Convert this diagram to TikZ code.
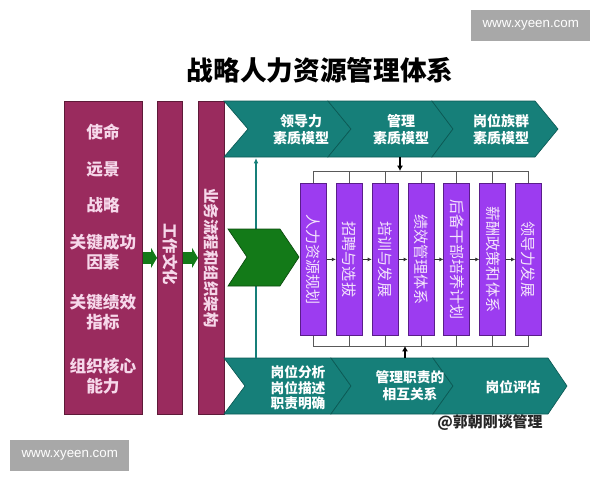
\documentclass[tikz,border=0pt]{standalone}
\usepackage{fontspec}
\setmainfont{Liberation Sans}
\newfontfamily\cjk{Noto Sans CJK SC}
\usepackage{xcolor}
\usepackage{tikz}
\usetikzlibrary{arrows.meta,positioning}

\definecolor{wine}{HTML}{9A2B5E}
\definecolor{winedark}{HTML}{5E1A38}
\definecolor{winetext}{HTML}{F6D8EA}
\definecolor{teal1}{HTML}{167F79}
\definecolor{tealdark}{HTML}{0C5A55}
\definecolor{grn}{HTML}{137A18}
\definecolor{grndark}{HTML}{0B4A0E}
\definecolor{violet1}{HTML}{9C3CF0}
\definecolor{violetdark}{HTML}{5A1E8A}
\definecolor{violettext}{HTML}{F4E4FC}
\definecolor{wmgray}{HTML}{A8A8A8}

\begin{document}
\begin{tikzpicture}[
    x=0.75pt, y=-0.75pt,
    font=\cjk,
    goalbox/.style={draw=winedark, fill=wine, line width=0.6pt, inner sep=0pt, anchor=north west},
    goaltxt/.style={align=center, text=winetext, inner sep=0pt, font=\cjk\bfseries\fontsize{12.5}{15.5}\selectfont},
    bartxt/.style={text=winetext, inner sep=0pt, font=\cjk\bfseries\fontsize{11.6}{14}\selectfont},
    band/.style={draw=tealdark, fill=teal1, line width=0.5pt},
    bandtxt/.style={align=center, text=white, inner sep=0pt, font=\cjk\bfseries\fontsize{10.5}{12.75}\selectfont},
    hrbox/.style={draw=violetdark, fill=violet1, line width=0.6pt, inner sep=0pt, minimum width=19.5pt, minimum height=114pt, text=violettext, font=\cjk\fontsize{11.3}{13}\selectfont},
    garrow/.style={-{Triangle[length=4.5pt, width=15pt]}, line width=8.5pt, draw=grn},
    sarrow/.style={-{Latex[length=3pt, width=3pt]}, line width=0.6pt, draw=black!80},
    bigarrow/.style={-{Latex[length=4pt, width=4.5pt]}, line width=1.4pt, draw=black},
    bracket/.style={draw=black!65, line width=0.6pt},
    wmark/.style={fill=wmgray, text=white, inner sep=0pt, anchor=north west, minimum width=89.25pt, minimum height=23pt, font=\fontsize{10}{12}\selectfont}
]
\useasboundingbox (0,0) rectangle (600,480);

% title and marks
\node[font=\cjk\bfseries\fontsize{20}{24}\selectfont] (title) at (320,70) {战略人力资源管理体系};
\node[wmark] (wmtop) at (471,10) {www.xyeen.com};
\node[wmark] (wmbot) at (10,440) {www.xyeen.com};
\node[inner sep=0pt, text=black!85, font=\cjk\bfseries\fontsize{11.2}{13}\selectfont] (credit) at (490,423) {@郭朝刚谈管理};

% left columns
\node[goalbox, minimum width=58.5pt, minimum height=234.75pt] (goals) at (64,101) {};
\node[goalbox, minimum width=18.75pt, minimum height=234.75pt] (culture) at (157,101) {};
\node[goalbox, minimum width=19.5pt, minimum height=234.75pt] (process) at (198,101) {};

\node[goaltxt] (mission) at (103,132) {使命};
\node[goaltxt] (vision) at (103,169) {远景};
\node[goaltxt] (strategy) at (103,205) {战略};
\node[goaltxt] (csf) at (103,252) {关键成功\\因素};
\node[goaltxt] (kpi) at (103,312) {关键绩效\\指标};
\node[goaltxt] (core) at (103,376) {组织核心\\能力};

\node[bartxt] (culturetxt) at (170,254) {\rotatebox[origin=c]{-90}{工作文化}};
\node[bartxt] (processtxt) at (211,258) {\rotatebox[origin=c]{-90}{业务流程和组织架构}};

\draw[garrow] (goals) -- (culture);
\draw[garrow] (culture) -- (process);

% top band
\filldraw[band] (224,101) -- (328,101) -- (351,129) -- (328,157) -- (224,157) -- (248,129) -- cycle;
\filldraw[band] (328,101) -- (432,101) -- (453,129) -- (432,157) -- (328,157) -- (351,129) -- cycle;
\filldraw[band] (432,101) -- (535,101) -- (558,129) -- (535,157) -- (432,157) -- (453,129) -- cycle;
\node[bandtxt] (leadmodel) at (301,130) {领导力\\素质模型};
\node[bandtxt] (mgmtmodel) at (401,130) {管理\\素质模型};
\node[bandtxt] (jobmodel) at (501,130) {岗位族群\\素质模型};

% bottom band
\filldraw[band] (224,358) -- (331,358) -- (351,386) -- (331,414) -- (224,414) -- (245,386) -- cycle;
\filldraw[band] (331,358) -- (433,358) -- (453,386) -- (433,414) -- (331,414) -- (351,386) -- cycle;
\filldraw[band] (433,358) -- (548,358) -- (567,386) -- (548,414) -- (433,414) -- (453,386) -- cycle;
\node[bandtxt, font=\cjk\bfseries\fontsize{10.3}{11.7}\selectfont] (jobanalysis) at (298,388) {岗位分析\\岗位描述\\职责明确};
\node[bandtxt, font=\cjk\bfseries\fontsize{10.3}{12.75}\selectfont] (mgmtduty) at (410,386) {管理职责的\\相互关系};
\node[bandtxt, font=\cjk\bfseries\fontsize{10.3}{12.75}\selectfont] (jobeval) at (513,387) {岗位评估};

% link line and green chevron
\coordinate (linebot) at (256,358);
\coordinate (linetop) at (256,158);
\draw[-{Latex[length=4pt, width=3.5pt]}, draw=teal1, line width=0.9pt] (linebot) -- (linetop);
\filldraw[draw=grndark, fill=grn, line width=0.5pt] (228,229) -- (280,229) -- (299,257) -- (280,286) -- (228,286) -- (247,257) -- cycle;

% HR functions
\node[hrbox, anchor=north west] (plan) at (300,183) {\rotatebox[origin=c]{-90}{人力资源规划}};
\node[hrbox, right=6.8pt of plan] (recruit) {\rotatebox[origin=c]{-90}{招聘与选拔}};
\node[hrbox, right=6.8pt of recruit] (train) {\rotatebox[origin=c]{-90}{培训与发展}};
\node[hrbox, right=6.8pt of train] (perf) {\rotatebox[origin=c]{-90}{绩效管理体系}};
\node[hrbox, right=6.8pt of perf] (reserve) {\rotatebox[origin=c]{-90}{后备干部培养计划}};
\node[hrbox, right=6.8pt of reserve] (pay) {\rotatebox[origin=c]{-90}{薪酬政策和体系}};
\node[hrbox, right=6.8pt of pay] (leaddev) {\rotatebox[origin=c]{-90}{领导力发展}};

\draw[sarrow] (plan) -- (recruit);
\draw[sarrow] (recruit) -- (train);
\draw[sarrow] (train) -- (perf);
\draw[sarrow] (perf) -- (reserve);
\draw[sarrow] (reserve) -- (pay);
\draw[sarrow] (pay) -- (leaddev);

% brackets
\coordinate (topbar) at (400,171);
\coordinate (topsrc) at (400,157);
\coordinate (botbar) at (405,346);
\coordinate (botsrc) at (405,358);
\draw[bracket] (plan.north) -- (plan.north |- topbar) -- (leaddev.north |- topbar) -- (leaddev.north);
\draw[bracket] (recruit.north) -- (recruit.north |- topbar) (train.north) -- (train.north |- topbar)
    (perf.north) -- (perf.north |- topbar) (reserve.north) -- (reserve.north |- topbar) (pay.north) -- (pay.north |- topbar);
\draw[bracket] (plan.south) -- (plan.south |- botbar) -- (leaddev.south |- botbar) -- (leaddev.south);
\draw[bracket] (recruit.south) -- (recruit.south |- botbar) (train.south) -- (train.south |- botbar)
    (perf.south) -- (perf.south |- botbar) (reserve.south) -- (reserve.south |- botbar) (pay.south) -- (pay.south |- botbar);
\draw[bigarrow] (topsrc) -- (topbar);
\draw[bigarrow] (botsrc) -- (botbar);
\end{tikzpicture}
\end{document}
